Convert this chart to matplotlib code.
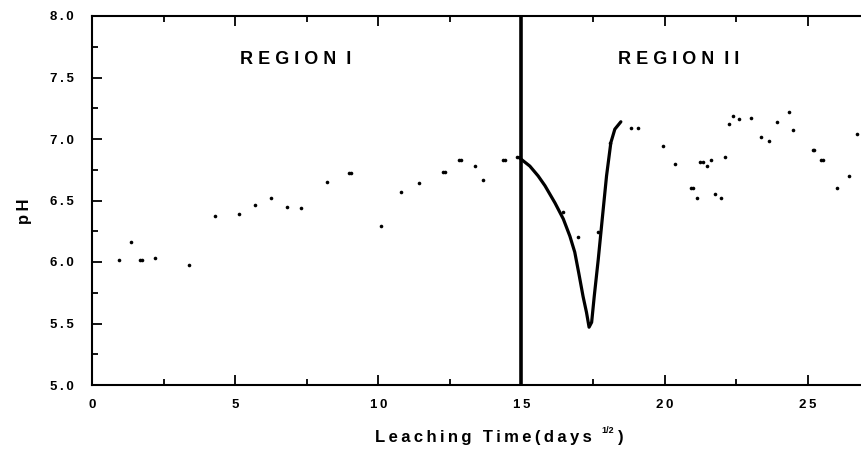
import matplotlib
matplotlib.use('Agg')
import matplotlib.pyplot as plt

plt.rcParams['font.family'] = ['Liberation Sans', 'DejaVu Sans']
plt.rcParams['font.weight'] = 'bold'

# scattered pH readings (leaching time in days^1/2)
pts_x = [0.95, 1.36, 1.68, 1.75, 2.21, 3.39, 4.29, 5.13, 5.69, 6.25, 6.81, 7.30,
         8.21, 8.96, 9.06, 10.09, 10.79, 11.42, 12.27, 12.33, 12.82, 12.88, 13.37,
         13.65, 14.36, 14.42, 14.85,
         16.46, 16.96, 17.68, 18.10,
         18.84, 19.07, 19.95, 20.37, 20.93, 20.99, 21.13, 21.22, 21.34, 21.48,
         21.62, 21.76, 21.97, 22.11, 22.25, 22.39, 22.60, 23.02, 23.37, 23.65,
         23.93, 24.35, 24.49, 25.17, 25.23, 25.47, 25.53, 26.02, 26.44, 26.72]
pts_y = [6.02, 6.16, 6.02, 6.02, 6.03, 5.975, 6.37, 6.39, 6.46, 6.52, 6.45, 6.44,
         6.65, 6.72, 6.72, 6.29, 6.57, 6.64, 6.73, 6.73, 6.83, 6.83, 6.78,
         6.67, 6.83, 6.83, 6.85,
         6.41, 6.20, 6.24, 6.97,
         7.09, 7.09, 6.94, 6.80, 6.60, 6.60, 6.52, 6.81, 6.81, 6.78,
         6.83, 6.55, 6.52, 6.85, 7.12, 7.19, 7.16, 7.17, 7.02, 6.98,
         7.14, 7.22, 7.07, 6.91, 6.91, 6.83, 6.83, 6.60, 6.70, 7.04]

# hand-traced dip curve in region II
curve_x = [14.91, 15.29, 15.58, 15.82, 16.17, 16.46, 16.69, 16.86, 17.00, 17.15,
           17.27, 17.36, 17.45, 17.54, 17.68, 17.82, 17.97, 18.12, 18.26, 18.47]
curve_y = [6.85, 6.78, 6.70, 6.62, 6.48, 6.35, 6.21, 6.08, 5.91, 5.72,
           5.59, 5.47, 5.51, 5.72, 6.02, 6.35, 6.70, 6.97, 7.08, 7.14]

boundary = 15
x_ticks = [0, 5, 10, 15, 20, 25, 30]
x_labels = ['0', '5', '10', '15', '20', '25', '']
y_ticks = [5.0, 5.5, 6.0, 6.5, 7.0, 7.5, 8.0]

# spread out the characters a little, like the original
def spaced(s):
    return '\u2009'.join(s)

fig = plt.figure(figsize=(8.62, 4.5), dpi=100)
ax = fig.add_axes([92 / 862, 65 / 450, 859 / 862, 369 / 450])

ax.plot(pts_x, pts_y, 'o', color='black', markersize=2.6, markeredgewidth=0)
ax.plot(curve_x, curve_y, '-', color='black', linewidth=2.3,
        solid_capstyle='round', solid_joinstyle='round')
ax.axvline(boundary, color='black', linewidth=2.6)

ax.set_xlim(0, 30)
ax.set_ylim(5.0, 8.0)
ax.set_xticks(x_ticks)
ax.set_xticklabels([spaced(s) for s in x_labels])
ax.set_yticks(y_ticks)
ax.set_yticklabels([spaced('%.1f' % v) for v in y_ticks])
ax.set_xticks([2.5, 7.5, 12.5, 17.5, 22.5, 27.5], minor=True)
ax.set_yticks([5.25, 5.75, 6.25, 6.75, 7.25, 7.75], minor=True)

ax.tick_params(which='major', direction='in', length=7, width=1.3)
ax.tick_params(which='minor', direction='in', length=4.5, width=1.3)
ax.tick_params(axis='y', which='both', pad=13, labelsize=9.5)
ax.tick_params(axis='x', which='both', pad=10, labelsize=9.5)
ax.tick_params(axis='x', which='both', top=True)
for side in ['left', 'bottom', 'top', 'right']:
    ax.spines[side].set_linewidth(1.5)

ax.text(7.1, 7.65, 'R E G I O N  I', ha='center', va='center', fontsize=13, fontweight='bold')
ax.text(20.5, 7.65, 'R E G I O N  I I', ha='center', va='center', fontsize=13, fontweight='bold')

fig.text(0.029, 0.531, spaced('pH'), rotation=90, ha='center', va='center', fontsize=12, fontweight='bold')
fig.text(375 / 862, 1 - 442 / 450, spaced('Leaching Time(days'), ha='left', va='baseline',
         fontsize=12, fontweight='bold')
fig.text(601 / 862, 1 - 433 / 450, '1/2', ha='left', va='baseline', fontsize=6.5, fontweight='bold')
fig.text(618 / 862, 1 - 442 / 450, ')', ha='left', va='baseline', fontsize=12, fontweight='bold')

fig.savefig('out.png', dpi=100)
